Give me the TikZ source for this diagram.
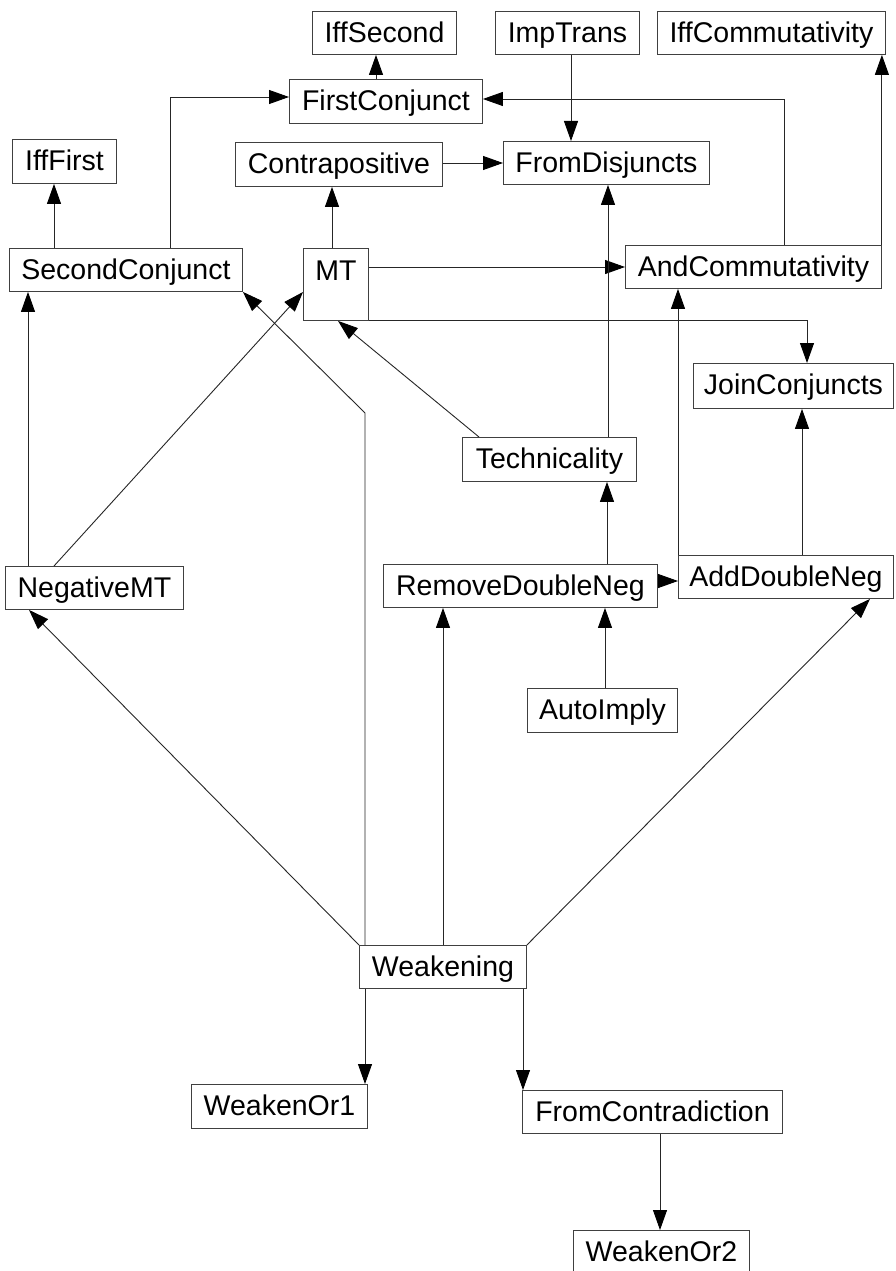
\documentclass[tikz,border=0pt]{standalone}
\usepackage{fontspec}
\setmainfont{Liberation Sans}
\usetikzlibrary{arrows.meta}
\begin{document}
\begin{tikzpicture}[x=1pt,y=-1pt,
 box/.style={draw=black!75, line width=0.9pt, rectangle, inner sep=0pt, anchor=north west,
   font=\fontsize{28.5}{30}\selectfont, text height=31pt, text depth=12pt, align=center},
 arr/.style={draw=black!85, line width=0.9pt, -{Triangle[length=20pt,width=14pt,color=black]}}]
\useasboundingbox[fill=white] (0,0) rectangle (895,1271);

\node[box, minimum width=144pt] (IffSecond) at (312,11) {IffSecond};
\node[box, minimum width=144pt] (ImpTrans) at (495,11) {ImpTrans};
\node[box, minimum width=228pt] (IffCommutativity) at (657,11) {IffCommutativity};
\node[box, minimum width=193pt, text depth=13pt] (FirstConjunct) at (289,79) {FirstConjunct};
\node[box, minimum width=104pt, text depth=13pt] (IffFirst) at (12,139) {IffFirst};
\node[box, minimum width=207pt, text depth=13pt] (Contrapositive) at (235,142) {Contrapositive};
\node[box, minimum width=206pt] (FromDisjuncts) at (503,141) {FromDisjuncts};
\node[box, minimum width=233pt] (SecondConjunct) at (9,248) {SecondConjunct};
\node[box, minimum width=65pt, text height=32pt, text depth=40pt] (MT) at (303,248) {MT};
\node[box, minimum width=256pt] (AndCommutativity) at (625,245) {AndCommutativity};
\node[box, minimum width=200pt, text depth=14pt] (JoinConjuncts) at (693,363) {JoinConjuncts};
\node[box, minimum width=174pt, text depth=13pt] (Technicality) at (462,437) {Technicality};
\node[box, minimum width=178pt] (NegativeMT) at (5,566) {NegativeMT};
\node[box, minimum width=274pt] (RemoveDoubleNeg) at (383,564) {RemoveDoubleNeg};
\node[box, minimum width=215pt] (AddDoubleNeg) at (678,555) {AddDoubleNeg};
\node[box, minimum width=150pt, text depth=13pt] (AutoImply) at (527,688) {AutoImply};
\node[box, minimum width=167pt] (Weakening) at (359,945) {Weakening};
\node[box, minimum width=176pt, text depth=13pt] (WeakenOr1) at (191,1084) {WeakenOr1};
\node[box, minimum width=260pt] (FromContradiction) at (522,1090) {FromContradiction};
\node[box, minimum width=176pt, text depth=13pt] (WeakenOr2) at (573,1230) {WeakenOr2};

\coordinate (bendW) at (365,413);

\draw[arr] (FirstConjunct.north -| 376,0) -- (IffSecond.south -| 376,0);
\draw[arr] (SecondConjunct.north -| 170,0) |- (FirstConjunct.west |- 0,97);
\draw[arr] (SecondConjunct.north -| 54,0) -- (IffFirst.south -| 54,0);
\draw[arr] (MT.north -| 332,0) -- (Contrapositive.south -| 332,0);
\draw[arr] (Contrapositive.east |- 0,163) -- (FromDisjuncts.west |- 0,163);
\draw[arr] (ImpTrans.south -| 571,0) -- (FromDisjuncts.north -| 571,0);
\draw[arr] (AndCommutativity.north -| 784,0) |- (FirstConjunct.east |- 0,99);
\draw[arr] (AndCommutativity.north east) -- (IffCommutativity.south -| AndCommutativity.east);
\draw[arr] (MT.east |- 0,267) -- (AndCommutativity.west |- 0,267);
\draw[arr] (MT.south east) -| (JoinConjuncts.north -| 807,0);
\draw[arr] (Technicality.north -| 479,0) -- (MT.south -| 338,0);
\draw[arr] (Technicality.north -| 608,0) -- (FromDisjuncts.south -| 608,0);
\draw[arr] (RemoveDoubleNeg.north -| 607,0) -- (Technicality.south -| 607,0);
\draw[arr] (RemoveDoubleNeg.east |- 0,581) -- (AddDoubleNeg.west |- 0,581);
\draw[arr] (AddDoubleNeg.north west) -- (AndCommutativity.south -| AddDoubleNeg.west);
\draw[arr] (AddDoubleNeg.north -| 802,0) -- (JoinConjuncts.south -| 802,0);
\draw[arr] (AutoImply.north -| 605,0) -- (RemoveDoubleNeg.south -| 605,0);
\draw[arr] (NegativeMT.north -| 28,0) -- (SecondConjunct.south -| 28,0);
\draw[arr] (NegativeMT.north -| 54,0) -- (MT.west |- 0,292);
\draw[arr] (Weakening.north -| 365,0) -- (bendW) -- (SecondConjunct.south east);
\draw[arr] (Weakening.north west) -- (NegativeMT.south -| 29,0);
\draw[arr] (Weakening.north -| 443,0) -- (RemoveDoubleNeg.south -| 443,0);
\draw[arr] (Weakening.north east) -- (AddDoubleNeg.south -| 870,0);
\draw[arr] (Weakening.south -| 365,0) -- (WeakenOr1.north -| 365,0);
\draw[arr] (Weakening.south -| 523,0) -- (FromContradiction.north -| 523,0);
\draw[arr] (FromContradiction.south -| 660,0) -- (WeakenOr2.north -| 660,0);
\end{tikzpicture}
\end{document}
